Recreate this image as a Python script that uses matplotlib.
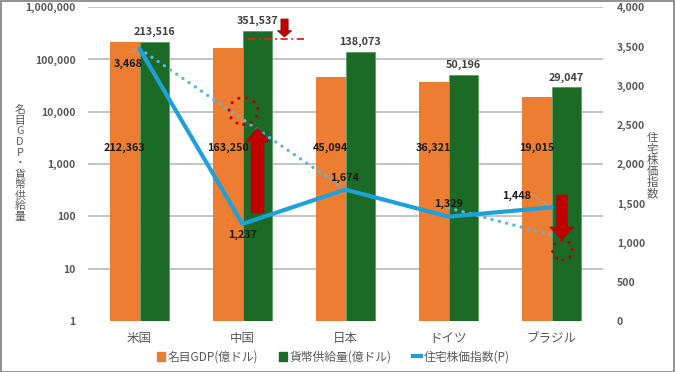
import matplotlib
matplotlib.use("Agg")
import matplotlib.pyplot as plt
import numpy as np
from matplotlib.patches import FancyArrow, Ellipse, Rectangle
from matplotlib.lines import Line2D
from matplotlib.ticker import FixedLocator, FuncFormatter

plt.rcParams['font.family'] = ['Noto Sans CJK JP', 'DejaVu Sans']

categories = ['米国', '中国', '日本', 'ドイツ', 'ブラジル']
gdp = [212363, 163250, 45094, 36321, 19015]
money = [213516, 351537, 138073, 50196, 29047]
house = [3468, 1237, 1674, 1329, 1448]
# hand-drawn dotted guide lines (right axis values)
guide1_x = [0, 2]
guide1_y = [3468, 1674]
guide2_x = [3, 4]
guide2_y = [1440, 1095]

left_ticks = [1, 10, 100, 1000, 10000, 100000, 1000000]
right_ticks = [0, 500, 1000, 1500, 2000, 2500, 3000, 3500, 4000]

ORANGE = '#ed7d31'
GREEN = '#1b6a25'
BLUE = '#1ea1da'
DOT_BLUE = '#5ab6e2'
RED = '#c00000'
GRAY = '#595959'

W, H = 675, 372
fig = plt.figure(figsize=(W / 100, H / 100), dpi=100)
ax = fig.add_axes([88 / W, 1 - 321 / H, 515 / W, 314 / H])
ax2 = ax.twinx()

x = np.arange(len(categories))
bw = 0.29
ax.bar(x - bw / 2, gdp, bw, color=ORANGE, zorder=2, label='名目GDP(億ドル)')
ax.bar(x + bw / 2, money, bw, color=GREEN, edgecolor='#5f9a63', linewidth=0.6,
       zorder=2, label='貨幣供給量(億ドル)')

ax.set_yscale('log')
ax.set_ylim(1, 1e6)
ax.set_xlim(-0.5, 4.5)
ax.yaxis.set_major_locator(FixedLocator(left_ticks))
ax.yaxis.set_minor_locator(FixedLocator([]))
ax.yaxis.set_major_formatter(FuncFormatter(lambda v, p: f'{int(round(v)):,}'))
for t in left_ticks[1:]:
    ax.axhline(t, color='#bfbfbf', lw=1.3, zorder=1)
for s in ax.spines.values():
    s.set_visible(False)
for s in ax2.spines.values():
    s.set_visible(False)
ax.tick_params(axis='y', length=0, pad=9, labelsize=7.5, labelcolor=GRAY)
for lbl in ax.get_yticklabels():
    lbl.set_fontweight('bold')
ax.set_xticks(x)
ax.set_xticklabels(categories, fontsize=9, color=GRAY)
ax.tick_params(axis='x', length=0, pad=8)

ax2.set_ylim(0, 4000)
ax2.set_yticks(right_ticks)
ax2.set_yticklabels([f'{v:,}' for v in right_ticks], fontsize=7.5, color=GRAY,
                    fontweight='bold')
ax2.tick_params(axis='y', length=0, pad=10)

# bar labels
for i in range(len(categories)):
    ax.annotate(f'{money[i]:,}', (x[i] + bw / 2, money[i]), xytext=(0, 10),
                textcoords='offset pixels', ha='center', va='center',
                fontsize=7.8, fontweight='bold', color='#404040')
    ax.text(x[i] - bw / 2, 2000, f'{gdp[i]:,}', ha='center', va='center',
            fontsize=7.8, fontweight='bold', color='#1a1a1a', zorder=5)

# guide dotted lines
for gx, gy in ((guide1_x, guide1_y), (guide2_x, guide2_y)):
    ax2.plot(gx, gy, color=DOT_BLUE, lw=2.4, ls=(0, (0.05, 2.2)),
             dash_capstyle='round', zorder=3)

# main line
ax2.plot(x, house, color=BLUE, lw=3, zorder=4, solid_capstyle='round',
         label='住宅株価指数(P)')

offsets = [(-11, -15), (0, -11), (-1, 12), (0, 13), (-35, 11)]
for i, (v, off) in enumerate(zip(house, offsets)):
    ax2.annotate(f'{v:,}', (x[i], v), xytext=off, textcoords='offset pixels',
                 ha='center', va='center', fontsize=7.8, fontweight='bold',
                 color='#1a1a1a', zorder=6)
# leader lines
ax2.annotate('', (x[0], house[0]), xytext=(-10, -4), textcoords='offset pixels',
             arrowprops=dict(arrowstyle='-', color='#a6a6a6', lw=0.6,
                             shrinkA=0, shrinkB=0))
ax2.annotate('', (x[4], house[4]), xytext=(-21, 14), textcoords='offset pixels',
             arrowprops=dict(arrowstyle='-', color='#a6a6a6', lw=0.6,
                             shrinkA=0, shrinkB=0))

# red annotations
ax2.add_patch(FancyArrow(1.145, 1376, 0, 1083, width=0.126, head_width=0.24,
                         head_length=178, length_includes_head=True,
                         fc=RED, ec='#8b1a1a', lw=0.6, zorder=7))
ax2.add_patch(FancyArrow(4.10, 1605, 0, -573, width=0.107, head_width=0.233,
                         head_length=165, length_includes_head=True,
                         fc=RED, ec='#8b1a1a', lw=0.6, zorder=7))
ax2.add_patch(FancyArrow(1.408, 3847, 0, -229, width=0.07, head_width=0.14,
                         head_length=80, length_includes_head=True,
                         fc=RED, ec='#8b1a1a', lw=0.6, zorder=7))
ax2.plot([1.058, 1.63], [3592, 3592], color='#e02020', lw=1.3,
         ls=(0, (4, 2, 1, 2)), zorder=7)
ax2.add_patch(Ellipse((1.01, 2675), 0.28, 344, fill=False, ec=RED, lw=2.2,
                      ls=(0, (0.05, 2.6)), capstyle='round', zorder=7))
ax2.add_patch(Ellipse((4.107, 904), 0.194, 255, fill=False, ec=RED, lw=2.2,
                      ls=(0, (0.05, 2.6)), capstyle='round', zorder=7))

# vertical stacked axis titles (one character per row)
left_title = '名目GDP・貨幣供給量'
for k, ch in enumerate(left_title):
    fig.text(20 / W, 1 - (110 + k * 10.7) / H, ch, ha='center', va='center',
             fontsize=7.8, color=GRAY)
right_title = '住宅株価指数'
for k, ch in enumerate(right_title):
    fig.text(652 / W, 1 - (138 + k * 11.2) / H, ch, ha='center', va='center',
             fontsize=8.2, color=GRAY)

# legend
handles = [Rectangle((0, 0), 1, 1, color=ORANGE),
           Rectangle((0, 0), 1, 1, color=GREEN),
           Line2D([0], [0], color=BLUE, lw=3)]
labels = ['名目GDP(億ドル)', '貨幣供給量(億ドル)', '住宅株価指数(P)']
leg = fig.legend(handles, labels, loc='center', bbox_to_anchor=(333 / W, 1 - 357 / H),
                 ncol=3, frameon=False, fontsize=8.5, handlelength=0.7,
                 handleheight=0.7, handletextpad=0.2, columnspacing=1.8)
for t in leg.get_texts():
    t.set_color(GRAY)

# figure border
fig.patches.append(Rectangle((0.5 / W, 0.5 / H), 1 - 1.5 / W, 1 - 1.5 / H,
                             transform=fig.transFigure, fill=False,
                             ec='#7f7f7f', lw=1.2))

fig.savefig('out.png', dpi=100)
